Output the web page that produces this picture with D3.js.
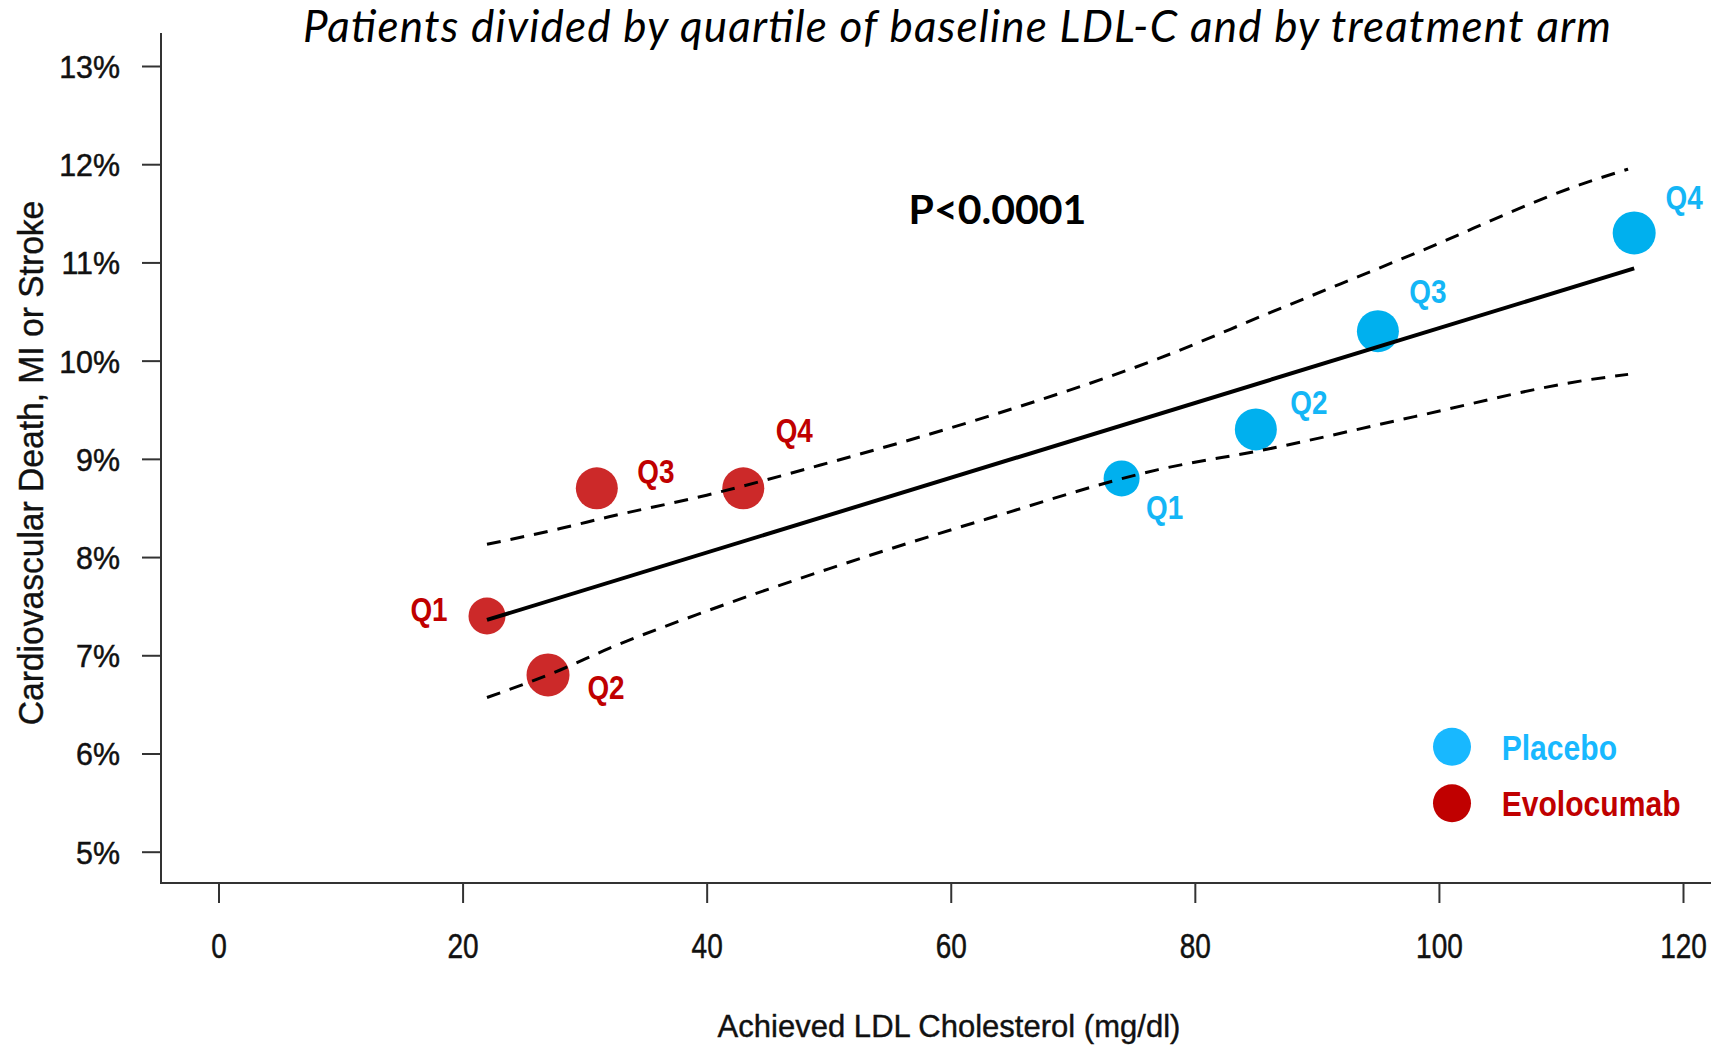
<!DOCTYPE html>
<html>
<head>
<meta charset="utf-8">
<script src="https://cdn.jsdelivr.net/npm/d3@7"></script>
<style>
  body { margin: 0; background: #fff; }
  svg { display: block; }
</style>
</head>
<body>
<div id="visualizer"></div>
<script>
'use strict'

// values
const quartiles = ['Q1', 'Q2', 'Q3', 'Q4']
const evolocumabLdl = [22, 27, 31, 43]
const evolocumabRate = [7.4, 6.8, 8.7, 8.7]
const placeboLdl = [74, 85, 95, 116]
const placeboRate = [8.8, 9.3, 10.3, 11.3]
const fitLdl = [22, 116]
const fitRate = [7.36, 10.94]
const bandLdl = [22, 28, 32, 40, 50, 63, 77, 86, 98, 112, 115.5]
const bandUpper = [8.13, 8.29, 8.41, 8.63, 8.96, 9.43, 10.02, 10.48, 11.09, 11.81, 11.95]
const bandLower = [6.57, 6.85, 7.07, 7.45, 7.88, 8.39, 8.89, 9.10, 9.43, 9.80, 9.86]
const xTicks = [0, 20, 40, 60, 80, 100, 120]
const yTicks = [5, 6, 7, 8, 9, 10, 11, 12, 13]
const legendNames = ['Placebo', 'Evolocumab']
const titleText = 'Patients divided by quartile of baseline LDL-C and by treatment arm'
const pValueText = 'P<0.0001'
const xTitleText = 'Achieved LDL Cholesterol (mg/dl)'
const yTitleText = 'Cardiovascular Death, MI or Stroke'

const W = 1711
const H = 1045
const ARIAL = '"Liberation Sans", Arial, sans-serif'
const HUMANIST = 'Lato, "Open Sans", sans-serif'

const arms = [
  {
    name: 'evolocumab',
    ldl: evolocumabLdl,
    rate: evolocumabRate,
    dot: '#cc2929',
    label: '#c00000',
    radius: [18.5, 21.5, 21, 21],
    // label centre relative to dot centre (px)
    offset: [[-58, -7], [58, 12], [59, -18], [51, -59]]
  },
  {
    name: 'placebo',
    ldl: placeboLdl,
    rate: placeboRate,
    dot: '#00b0ee',
    label: '#14b6f6',
    radius: [18, 21, 21, 21.5],
    offset: [[43, 28], [53, -28], [50, -41], [50, -36]]
  }
]

const svg = d3.select('#visualizer')
  .append('svg')
  .attr('width', W)
  .attr('height', H)

const x = d3.scaleLinear().domain([0, 120]).range([218.5, 1683])
const y = d3.scaleLinear().domain([5, 13]).range([851.7, 66])

const axisX0 = 161
const axisY0 = 883

// narrow-looking text: squeeze horizontally around the anchor
function addText (parent, str, px, py, size, sx, extra) {
  const t = parent.append('text')
    .attr('transform', `translate(${px},${py}) scale(${sx},1)`)
    .attr('font-size', size)
    .attr('font-family', ARIAL)
    .text(str)
  if (extra) extra(t)
  return t
}

// axes
const yAxis = svg.append('g')
  .attr('transform', `translate(${axisX0},0)`)
  .call(d3.axisLeft(y).tickValues(yTicks).tickSize(19).tickSizeOuter(0).tickFormat(d => d + '%'))
yAxis.select('.domain').remove()
yAxis.selectAll('.tick line').attr('stroke', '#333').attr('stroke-width', 2)
yAxis.selectAll('.tick text')
  .attr('font-size', 32)
  .attr('font-family', ARIAL)
  .attr('fill', '#111')
  .attr('stroke', '#111')
  .attr('stroke-width', 0.5)
  .attr('x', null)
  .attr('dy', null)
  .attr('transform', 'translate(-41,11.5) scale(0.95,1)')

const xAxis = svg.append('g')
  .attr('transform', `translate(0,${axisY0})`)
  .call(d3.axisBottom(x).tickValues(xTicks).tickSize(20).tickSizeOuter(0))
xAxis.select('.domain').remove()
xAxis.selectAll('.tick line').attr('stroke', '#333').attr('stroke-width', 2)
xAxis.selectAll('.tick text')
  .attr('font-size', 35)
  .attr('font-family', ARIAL)
  .attr('fill', '#111')
  .attr('stroke', '#111')
  .attr('stroke-width', 0.5)
  .attr('y', null)
  .attr('dy', null)
  .attr('transform', 'translate(0,75) scale(0.8,1)')

svg.append('line')
  .attr('x1', axisX0).attr('x2', axisX0)
  .attr('y1', 33).attr('y2', axisY0 + 1)
  .attr('stroke', '#333').attr('stroke-width', 2)
svg.append('line')
  .attr('x1', axisX0 - 1).attr('x2', W)
  .attr('y1', axisY0).attr('y2', axisY0)
  .attr('stroke', '#333').attr('stroke-width', 2)

// dots
for (const arm of arms) {
  svg.append('g')
    .attr('class', `dots ${arm.name}`)
    .selectAll('circle')
    .data(quartiles)
    .enter()
    .append('circle')
    .attr('cx', (d, i) => x(arm.ldl[i]))
    .attr('cy', (d, i) => y(arm.rate[i]))
    .attr('r', (d, i) => arm.radius[i])
    .attr('fill', arm.dot)
}

// regression line and confidence band
const line = d3.line().x(d => x(d[0])).y(d => y(d[1]))
const bandLine = d3.line().x(d => x(d[0])).y(d => y(d[1])).curve(d3.curveMonotoneX)

svg.append('path')
  .datum(fitLdl.map((v, i) => [v, fitRate[i]]))
  .attr('d', line)
  .attr('fill', 'none')
  .attr('stroke', '#000')
  .attr('stroke-width', 4)

for (const band of [bandUpper, bandLower]) {
  svg.append('path')
    .datum(bandLdl.map((v, i) => [v, band[i]]))
    .attr('d', bandLine)
    .attr('fill', 'none')
    .attr('stroke', '#000')
    .attr('stroke-width', 3)
    .attr('stroke-dasharray', '14 10')
}

// quartile labels
for (const arm of arms) {
  const g = svg.append('g').attr('class', `qlabels ${arm.name}`)
  quartiles.forEach((q, i) => {
    const px = x(arm.ldl[i]) + arm.offset[i][0]
    const py = y(arm.rate[i]) + arm.offset[i][1] + 12.5
    addText(g, q, px, py, 34, 0.82, t => t
      .attr('text-anchor', 'middle')
      .attr('font-weight', 'bold')
      .attr('fill', arm.label))
  })
}

// legend
const legend = svg.append('g').attr('class', 'legend')
const legendColors = ['#18b8ff', '#c00000']
legendNames.forEach((name, i) => {
  const cy = 746.7 + i * 56.6
  legend.append('circle')
    .attr('cx', 1452).attr('cy', cy).attr('r', 19)
    .attr('fill', legendColors[i])
  addText(legend, name, 1501.7, cy + 13, 35, 0.86, t => t
    .attr('font-weight', 'bold')
    .attr('fill', legendColors[i]))
})

// titles
svg.append('text')
  .attr('x', 957).attr('y', 42)
  .attr('text-anchor', 'middle')
  .attr('font-family', HUMANIST)
  .attr('font-style', 'italic')
  .attr('font-size', 44)
  .attr('textLength', 1308)
  .attr('lengthAdjust', 'spacing')
  .attr('fill', '#000')
  .text(titleText)

svg.append('text')
  .attr('x', 997.5).attr('y', 224)
  .attr('text-anchor', 'middle')
  .attr('font-family', HUMANIST)
  .attr('font-weight', 'bold')
  .attr('font-size', 41)
  .attr('fill', '#000')
  .text(pValueText)

addText(svg, xTitleText, 949, 1037, 32, 0.97, t => t
  .attr('text-anchor', 'middle')
  .attr('fill', '#111')
  .attr('stroke', '#111')
  .attr('stroke-width', 0.4))

svg.append('text')
  .attr('transform', 'translate(42.7,463) rotate(-90) scale(0.96,1)')
  .attr('text-anchor', 'middle')
  .attr('font-family', ARIAL)
  .attr('font-size', 35)
  .attr('fill', '#111')
  .attr('stroke', '#111')
  .attr('stroke-width', 0.4)
  .text(yTitleText)
</script>
</body>
</html>
